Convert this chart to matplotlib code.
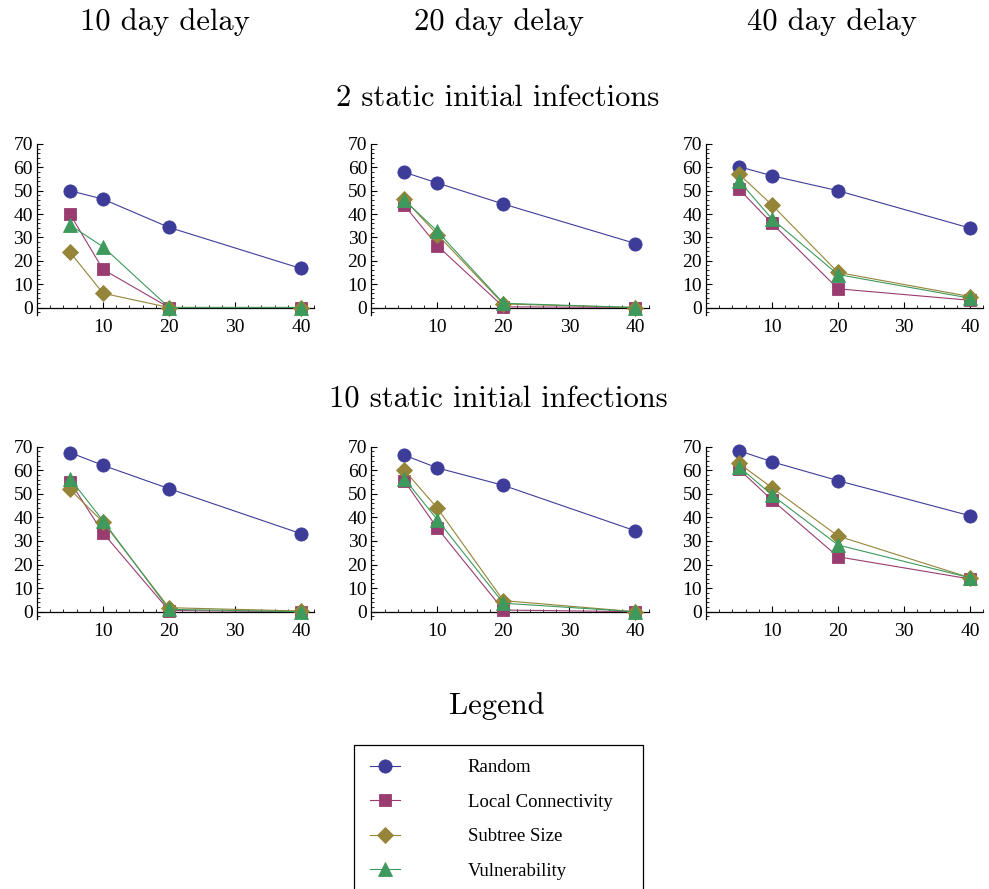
import matplotlib
matplotlib.use("Agg")
import matplotlib.pyplot as plt
from matplotlib.ticker import MultipleLocator, FixedLocator
from matplotlib.patches import Rectangle

# ---------------- data ----------------
x_vals = [5, 10, 20, 40]
col_titles = ["10 day delay", "20 day delay", "40 day delay"]
row_titles = ["2 static initial infections", "10 static initial infections"]
series_names = ["Random", "Local Connectivity", "Subtree Size", "Vulnerability"]
x_ticks = [10, 20, 30, 40]
y_ticks = [0, 10, 20, 30, 40, 50, 60, 70]

# 2 static initial infections: one list per delay (10, 20, 40)
random_2 = [[50.0, 46.4, 34.3, 16.7], [57.9, 53.3, 44.3, 27.4], [60.3, 56.4, 50.0, 34.0]]
local_2 = [[40.0, 16.3, 0.0, 0.0], [43.7, 26.4, 0.3, 0.0], [50.7, 36.0, 8.0, 3.1]]
subtree_2 = [[23.7, 6.1, 0.0, 0.0], [46.3, 31.2, 1.5, 0.0], [57.1, 43.9, 15.0, 4.7]]
vuln_2 = [[35.3, 26.0, 0.0, 0.0], [46.0, 32.6, 1.8, 0.0], [54.3, 37.9, 14.1, 4.0]]

# 10 static initial infections
random_10 = [[67.5, 62.1, 52.2, 33.1], [66.4, 61.0, 53.6, 34.3], [68.3, 63.6, 55.6, 40.7]]
local_10 = [[55.2, 33.4, 0.5, 0.0], [55.4, 35.4, 0.7, 0.0], [60.4, 47.4, 23.3, 13.9]]
subtree_10 = [[51.9, 38.0, 1.7, 0.3], [60.0, 43.9, 4.7, 0.0], [62.9, 52.6, 32.1, 14.4]]
vuln_10 = [[56.5, 38.6, 1.0, 0.0], [56.4, 39.0, 3.6, 0.0], [61.5, 49.5, 28.3, 14.4]]

rows_data = [
    [random_2, local_2, subtree_2, vuln_2],
    [random_10, local_10, subtree_10, vuln_10],
]

# ---------------- style ----------------
colors = [(0.24, 0.24, 0.60), (0.60, 0.24, 0.44), (0.58, 0.52, 0.22), (0.24, 0.60, 0.36)]
markers = ["o", "s", "D", "^"]
msizes = [9.5, 8.5, 8.0, 9.5]

W, H = 989, 889
fig = plt.figure(figsize=(W / 100, H / 100), dpi=100)

serif = ["Liberation Serif", "DejaVu Serif"]
title_font = ["cmr10", "DejaVu Serif"]

col_left_px = [37, 371.4, 706]
px_per_x = 6.6
xmax = 42
ymin, ymax = -3.0, 70.0
row_zero_px = [307.5, 611.7]
row_top_px = [144.0, 446.7]

handles = None
for r in range(2):
    ppy = (row_zero_px[r] - row_top_px[r]) / 70.0
    bottom_px = row_zero_px[r] - ymin * ppy
    height_px = (ymax - ymin) * ppy
    for c in range(3):
        left = col_left_px[c]
        width_px = xmax * px_per_x
        ax = fig.add_axes([left / W, 1 - bottom_px / H, width_px / W, height_px / H])
        ax.patch.set_alpha(0)
        lines = []
        for s in range(4):
            ln, = ax.plot(x_vals, rows_data[r][s][c], color=colors[s], marker=markers[s],
                          markersize=msizes[s], markeredgewidth=0.6,
                          markeredgecolor=colors[s], lw=0.8, clip_on=False,
                          label=series_names[s], zorder=3 + s)
            lines.append(ln)
        handles = lines
        ax.set_xlim(0, xmax)
        ax.set_ylim(ymin, ymax)
        for sp in ["top", "right"]:
            ax.spines[sp].set_visible(False)
        ax.spines["bottom"].set_position(("data", 0))
        ax.spines["left"].set_position(("data", 0))
        ax.spines["left"].set_bounds(ymin, ymax)
        ax.spines["bottom"].set_bounds(0, xmax)
        for sp in ["bottom", "left"]:
            ax.spines[sp].set_linewidth(0.9)
            ax.spines[sp].set_color("black")
        ax.xaxis.set_major_locator(FixedLocator(x_ticks))
        ax.xaxis.set_minor_locator(MultipleLocator(2))
        ax.yaxis.set_major_locator(FixedLocator(y_ticks))
        ax.yaxis.set_minor_locator(MultipleLocator(2))
        ax.tick_params(axis="both", which="major", direction="in", length=4.5, width=0.8,
                       labelsize=14, color="black")
        ax.tick_params(axis="both", which="minor", direction="in", length=2.5, width=0.6,
                       color="black")
        ax.tick_params(axis="x", which="major", pad=8)
        ax.tick_params(axis="y", which="major", pad=3)
        for lab in ax.get_xticklabels() + ax.get_yticklabels():
            lab.set_fontfamily(serif)

# column titles
for c, t in enumerate(col_titles):
    cx = [164.5, 499, 832][c]
    fig.text(cx / W, 1 - 22 / H, t, ha="center", va="center", fontsize=22,
             family=title_font)
# row titles
for r, t in enumerate(row_titles):
    cy = [98, 400][r]
    fig.text(498 / W, 1 - cy / H, t, ha="center", va="center", fontsize=22,
             family=title_font)
fig.text(497 / W, 1 - 706 / H, "Legend", ha="center", va="center", fontsize=22,
         family=title_font)

# legend frame (extends past the bottom edge, as in the reference)
frame = Rectangle((354 / W, 1 - 905 / H), (643 - 354) / W, (905 - 745) / H,
                  transform=fig.transFigure, facecolor="white", edgecolor="black",
                  linewidth=0.9, zorder=1)
fig.patches.append(frame)

leg_fs = 13.5
leg = fig.legend(handles=handles, labels=series_names, loc="upper left",
                 bbox_to_anchor=(370 / W, 1 - 759 / H),
                 borderaxespad=0, frameon=False, handlelength=1.6,
                 handletextpad=3.6, borderpad=0, labelspacing=0.93,
                 prop={"family": serif, "size": leg_fs})
leg.set_zorder(2)

fig.savefig("out.png", dpi=100)
